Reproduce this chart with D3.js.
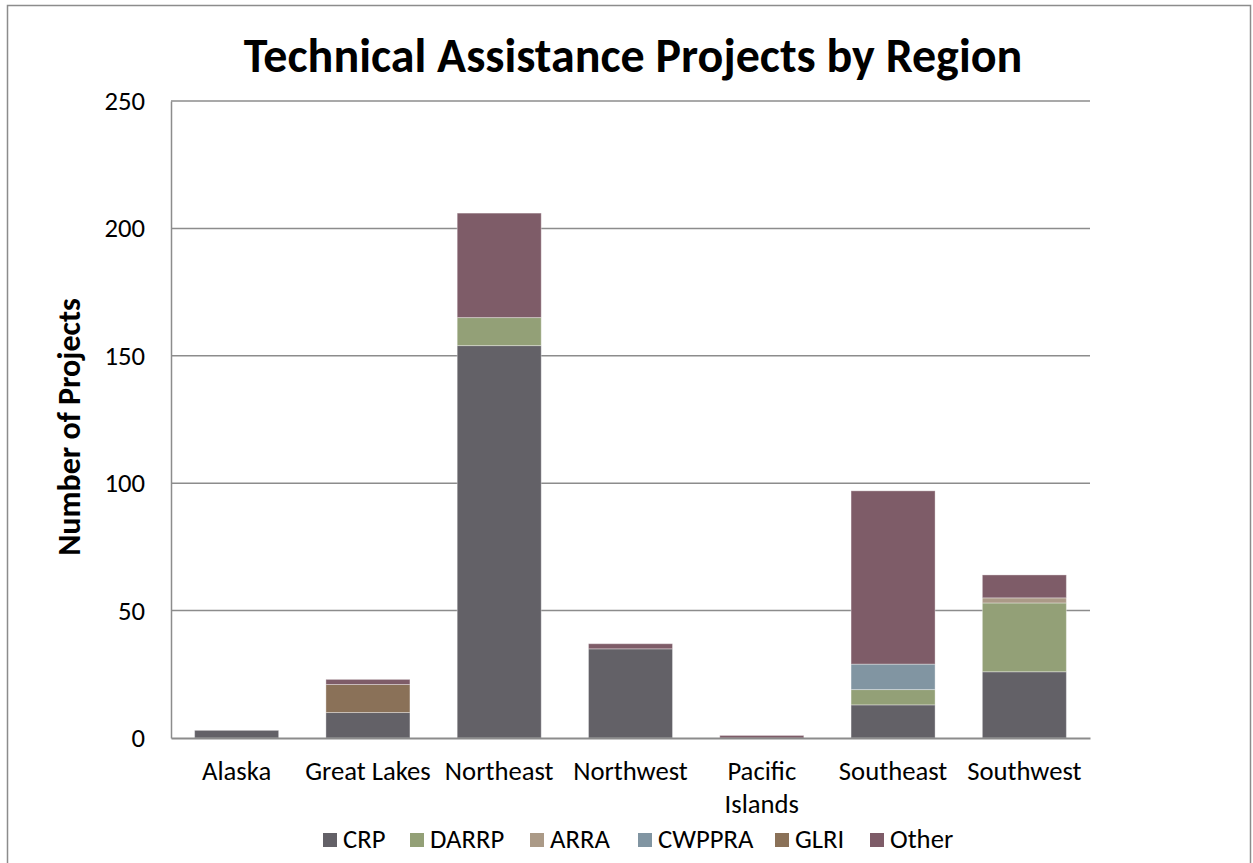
<!DOCTYPE html>
<html>
<head>
<meta charset="utf-8">
<script src="https://cdn.jsdelivr.net/npm/d3@7"></script>
<style>
  html, body { margin: 0; padding: 0; background: #fff; }
  svg { display: block; }
  text { font-family: Carlito, Calibri, Lato, "Open Sans", sans-serif; fill: #000; }
</style>
</head>
<body>
<svg id="chart" width="1253" height="863"></svg>
<script>
const regions = ["Alaska", "Great Lakes", "Northeast", "Northwest", "Pacific Islands", "Southeast", "Southwest"];
const seriesNames = ["CRP", "DARRP", "ARRA", "CWPPRA", "GLRI", "Other"];
const CRP    = [3, 10, 154, 35, 0, 13, 26];
const DARRP  = [0, 0, 11, 0, 0, 6, 27];
const ARRA   = [0, 0, 0, 0, 0, 0, 2];
const CWPPRA = [0, 0, 0, 0, 0, 10, 0];
const GLRI   = [0, 11, 0, 0, 0, 0, 0];
const Other  = [0, 2, 41, 2, 1, 68, 9];
const yTicks = [0, 50, 100, 150, 200, 250];
const colors = ["#636167", "#93a077", "#ab9a87", "#8195a2", "#8a7158", "#7e5c68"];

const seriesValues = [CRP, DARRP, ARRA, CWPPRA, GLRI, Other];
const table = regions.map((r, i) => {
  const o = { region: r };
  seriesNames.forEach((s, j) => o[s] = seriesValues[j][i]);
  return o;
});

const FONT = "Carlito, Calibri, Lato, 'Open Sans', sans-serif";
const svg = d3.select("#chart");
const W = 1253, H = 863;
const margin = { left: 171, right: 163, top: 101, bottom: 125 };
const plotW = W - margin.left - margin.right;
const plotH = H - margin.top - margin.bottom;

// outer border
svg.append("rect").attr("x", 7.5).attr("y", 5.5).attr("width", 1243).attr("height", 880)
  .attr("fill", "none").attr("stroke", "#8c8c8c").attr("stroke-width", 1.5);

const g = svg.append("g").attr("transform", `translate(${margin.left},${margin.top})`);

const x = d3.scaleBand().domain(regions).range([0, plotW]).paddingInner(0.36).paddingOuter(0.18);
const y = d3.scaleLinear().domain([0, 250]).range([plotH, 0]);

// gridlines
g.append("g").selectAll("line").data(yTicks.filter(t => t > 0)).join("line")
  .attr("x1", 0).attr("x2", plotW)
  .attr("y1", d => y(d)).attr("y2", d => y(d))
  .attr("stroke", "#8c8c8c").attr("stroke-width", 1.5);

// stacked bars
const stack = d3.stack().keys(seriesNames)(table);
g.append("g").selectAll("g").data(stack).join("g")
  .attr("fill", (d, i) => colors[i])
  .selectAll("rect").data(d => d.filter(p => p[1] - p[0] > 0)).join("rect")
  .attr("x", d => x(d.data.region))
  .attr("width", x.bandwidth())
  .attr("y", d => y(d[1]))
  .attr("height", d => y(d[0]) - y(d[1]))
  .attr("stroke", "rgba(255,255,255,0.35)").attr("stroke-width", 1);

// y axis
const yAxis = g.append("g").call(d3.axisLeft(y).tickValues(yTicks).tickSize(0).tickPadding(26));
yAxis.select(".domain").attr("stroke", "#8c8c8c").attr("stroke-width", 1.5);
yAxis.selectAll("text").style("font-size", "26.7px").style("font-family", FONT).attr("fill", "#000");

// x axis
const xAxis = g.append("g").attr("transform", `translate(0,${plotH})`)
  .call(d3.axisBottom(x).tickSize(0).tickPadding(0));
xAxis.select(".domain").attr("stroke", "#8c8c8c").attr("stroke-width", 2);
xAxis.selectAll("text").remove();
xAxis.selectAll(".tick").each(function(d) {
  const t = d3.select(this).append("text")
    .attr("text-anchor", "middle")
    .style("font-size", "26.7px").style("font-family", FONT)
    .attr("fill", "#000");
  const lines = d === "Pacific Islands" ? ["Pacific", "Islands"] : [d];
  lines.forEach((ln, i) => t.append("tspan").attr("x", 0).attr("y", 42 + i * 33).text(ln));
});

// title
svg.append("text").attr("x", 633).attr("y", 72).attr("text-anchor", "middle")
  .style("font-size", "48px").style("font-weight", "bold")
  .text("Technical Assistance Projects by Region");

// y axis title
svg.append("text").attr("transform", `translate(80,427) rotate(-90)`).attr("text-anchor", "middle")
  .style("font-size", "32px").style("font-weight", "bold")
  .text("Number of Projects");

// legend
const legendX = [323, 410, 530, 638, 775, 870];
const lg = svg.append("g");
seriesNames.forEach((s, i) => {
  lg.append("rect").attr("x", legendX[i]).attr("y", 833).attr("width", 14).attr("height", 14).attr("fill", colors[i]);
  lg.append("text").attr("x", legendX[i] + 20).attr("y", 848).style("font-size", "26.7px").text(s);
});
</script>
</body>
</html>
